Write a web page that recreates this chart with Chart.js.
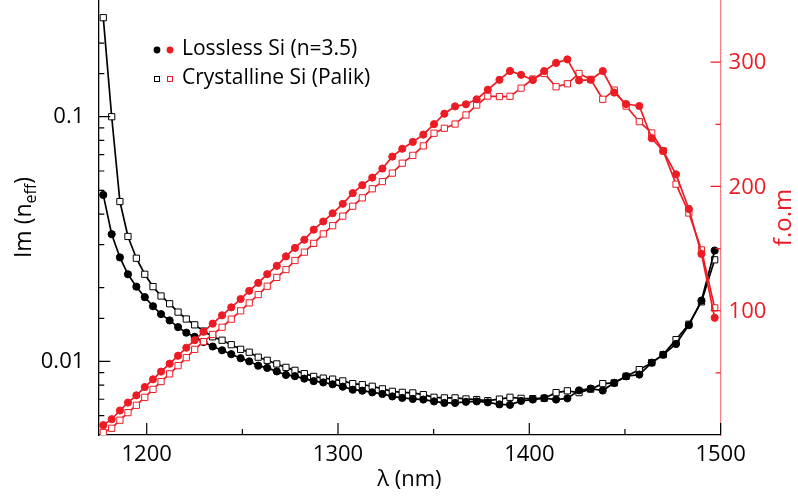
<!DOCTYPE html>
<html>
<head>
<meta charset="utf-8">
<script src="https://cdn.jsdelivr.net/npm/chart.js@4.4.1/dist/chart.umd.min.js"></script>
<style>
html, body { margin: 0; padding: 0; background: #fff; }
#wrap { width: 798px; height: 497px; position: relative; }
</style>
</head>
<body>
<div id="wrap"><canvas id="grafica"></canvas></div>
<script>
// Longitudes de onda (nm), comunes a las cuatro series
const lambdaNm = [1177.3, 1181.7, 1186.0, 1190.2, 1194.6, 1199.0, 1203.3, 1207.5, 1212.0, 1216.4,
  1220.7, 1225.1, 1229.7, 1234.5, 1239.4, 1244.2, 1249.1, 1253.6, 1258.3, 1263.0,
  1268.0, 1272.8, 1277.5, 1282.4, 1287.3, 1292.3, 1297.2, 1302.5, 1307.7, 1312.7,
  1317.9, 1323.2, 1328.4, 1333.6, 1339.1, 1344.6, 1350.2, 1355.6, 1361.2, 1366.9,
  1372.5, 1378.3, 1384.4, 1389.9, 1395.7, 1401.8, 1407.8, 1414.0, 1419.9, 1426.0,
  1432.1, 1438.4, 1444.4, 1450.6, 1457.5, 1464.0, 1470.0, 1476.7, 1483.4, 1490.0,
  1496.9];

// Im(n_eff), eje izquierdo (log)
const imLossless = [0.0479, 0.0331, 0.0266, 0.0227, 0.0202, 0.0183, 0.0168, 0.0156, 0.0147, 0.0138,
  0.0131, 0.0126, 0.0120, 0.0115, 0.0111, 0.0107, 0.0103, 0.0100, 0.0096, 0.0094,
  0.0091, 0.0088, 0.0087, 0.0085, 0.0083, 0.0082, 0.00806, 0.00788, 0.00766, 0.00759,
  0.00747, 0.00736, 0.00719, 0.00709, 0.00702, 0.00698, 0.00686, 0.00676, 0.00676, 0.00683,
  0.00686, 0.00680, 0.00667, 0.00664, 0.00689, 0.00698, 0.00707, 0.00698, 0.00706, 0.00761,
  0.00774, 0.00760, 0.00817, 0.00869, 0.00883, 0.00988, 0.01065, 0.01178, 0.01406, 0.01772,
  0.02838];
const imPalik = [0.254, 0.100, 0.0450, 0.0324, 0.0264, 0.0227, 0.0202, 0.0185, 0.0172, 0.0159,
  0.0149, 0.0141, 0.0133, 0.0126, 0.0122, 0.0117, 0.0112, 0.0109, 0.0104, 0.0101,
  0.00976, 0.00945, 0.00919, 0.00891, 0.00868, 0.00854, 0.00846, 0.00832, 0.00811, 0.00803,
  0.00791, 0.00772, 0.00754, 0.00747, 0.00743, 0.00731, 0.00713, 0.00709, 0.00709, 0.00702,
  0.00698, 0.00691, 0.00701, 0.00713, 0.00706, 0.00704, 0.00707, 0.00745, 0.00758, 0.00745,
  0.00770, 0.00811, 0.00816, 0.00869, 0.00925, 0.00988, 0.01065, 0.01227, 0.01418, 0.01752,
  0.02601];

// f.o.m, eje derecho
const fomLossless = [7.9, 12.7, 19.7, 26.1, 31.9, 38.6, 44.8, 51.0, 57.4, 63.8,
  70.2, 76.3, 83.1, 89.6, 96.3, 102.7, 109.4, 116.0, 122.4, 129.4,
  136.1, 143.7, 150.5, 157.1, 165.2, 171.8, 178.4, 186.0, 194.6, 201.0,
  207.1, 214.4, 224.0, 230.3, 235.8, 241.7, 250.1, 258.5, 264.4, 266.1,
  270.1, 277.8, 285.8, 292.9, 289.8, 285.6, 292.8, 299.4, 302.2, 285.3,
  285.8, 292.8, 275.5, 266.3, 264.7, 238.8, 228.6, 209.7, 181.9, 145.7,
  94.3];
const fomPalik = [2.0, 5.4, 11.9, 18.0, 23.9, 30.3, 36.7, 43.0, 49.2, 55.8,
  62.2, 68.9, 75.1, 80.9, 86.7, 93.2, 99.9, 106.3, 113.0, 119.7,
  126.8, 133.1, 140.4, 147.1, 154.2, 161.8, 168.4, 176.1, 184.1, 190.8,
  198.1, 203.9, 210.7, 218.7, 225.0, 232.6, 242.8, 246.8, 250.2, 257.5,
  265.5, 272.7, 272.3, 272.5, 279.1, 286.4, 290.9, 280.2, 282.6, 290.9,
  286.1, 270.1, 277.5, 264.7, 252.1, 243.0, 228.6, 201.8, 178.6, 148.9,
  102.3];

// Etiquetas de los ejes y leyenda
const xTickLabels = [1200, 1300, 1400, 1500];
const leftTickLabels = [0.01, 0.1];
const rightTickLabels = [100, 200, 300];
const legendLabels = ['Lossless Si (n=3.5)', 'Crystalline Si (Palik)'];

const ROJO = '#ED1C24';
const FUENTE = "'Open Sans', 'Noto Sans', sans-serif";

function pares(ys) {
  return lambdaNm.map((x, i) => ({ x: x, y: ys[i] }));
}

function esEtiquetaLog(v) {
  return leftTickLabels.find(t => Math.abs(t - v) / t < 1e-6);
}

// Quita el relleno automatico que Chart.js deja para las etiquetas
function ajustar(tam, prop) {
  return function (scale) {
    scale[prop] = tam;
    scale.paddingTop = 0;
    scale.paddingBottom = 0;
    scale.paddingLeft = 0;
    scale.paddingRight = 0;
  };
}

// Marcas hacia dentro del area del grafico + numeros del eje derecho
const marcasInternas = {
  id: 'marcasInternas',
  afterDatasetsDraw(chart) {
    const { ctx, chartArea: a, scales } = chart;
    ctx.save();
    ctx.lineWidth = 1.2;
    ctx.strokeStyle = '#000';
    ctx.beginPath();
    scales.x.ticks.forEach(t => {
      const px = scales.x.getPixelForValue(t.value);
      const len = xTickLabels.includes(t.value) ? 12 : 6;
      ctx.moveTo(px, a.bottom);
      ctx.lineTo(px, a.bottom - len);
    });
    scales.y.ticks.forEach(t => {
      const py = scales.y.getPixelForValue(t.value);
      if (py <= a.top + 1 || py >= a.bottom - 1) return;
      const len = esEtiquetaLog(t.value) ? 12 : 6;
      ctx.moveTo(a.left, py);
      ctx.lineTo(a.left + len, py);
    });
    ctx.stroke();

    ctx.strokeStyle = ROJO;
    ctx.fillStyle = ROJO;
    ctx.font = '22px ' + FUENTE;
    ctx.textAlign = 'left';
    ctx.textBaseline = 'middle';
    ctx.beginPath();
    scales.y2.ticks.forEach(t => {
      const py = scales.y2.getPixelForValue(t.value);
      if (py <= a.top + 1 || py >= a.bottom - 1) return;
      const mayor = rightTickLabels.includes(t.value);
      ctx.moveTo(a.right, py);
      ctx.lineTo(a.right - (mayor ? 10 : 5), py);
      if (mayor) ctx.fillText(String(t.value), a.right + 8, py + 1);
    });
    ctx.stroke();
    ctx.restore();
  }
};

// Titulos de los ejes y leyenda dibujados a mano (subindice y doble marcador)
const textosExtra = {
  id: 'textosExtra',
  afterDraw(chart) {
    const { ctx, chartArea: a } = chart;
    const midY = (a.top + a.bottom) / 2;
    ctx.save();

    // eje x
    ctx.fillStyle = '#000';
    ctx.font = '22px ' + FUENTE;
    ctx.textAlign = 'center';
    ctx.textBaseline = 'alphabetic';
    ctx.fillText('λ (nm)', (a.left + a.right) / 2, 486);

    // eje izquierdo: Im (n_eff)
    ctx.save();
    ctx.translate(31, midY);
    ctx.rotate(-Math.PI / 2);
    ctx.font = '23px ' + FUENTE;
    const w1 = ctx.measureText('Im (n').width;
    const w3 = ctx.measureText(')').width;
    ctx.font = '16px ' + FUENTE;
    const w2 = ctx.measureText('eff').width;
    const x0 = -(w1 + w2 + w3) / 2;
    ctx.textAlign = 'left';
    ctx.font = '23px ' + FUENTE;
    ctx.fillText('Im (n', x0, 0);
    ctx.font = '16px ' + FUENTE;
    ctx.fillText('eff', x0 + w1, 5);
    ctx.font = '23px ' + FUENTE;
    ctx.fillText(')', x0 + w1 + w2, 0);
    ctx.restore();

    // eje derecho: f.o.m
    ctx.save();
    ctx.translate(791, midY);
    ctx.rotate(-Math.PI / 2);
    ctx.fillStyle = ROJO;
    ctx.font = '24px ' + FUENTE;
    ctx.textAlign = 'center';
    ctx.fillText('f.o.m', 0, 0);
    ctx.restore();

    // leyenda
    const filas = [50, 79];
    ctx.font = '21px ' + FUENTE;
    ctx.textAlign = 'left';
    ctx.textBaseline = 'middle';
    ctx.fillStyle = '#000';
    legendLabels.forEach((txt, i) => ctx.fillText(txt, 182, filas[i] - 1));

    ctx.fillStyle = '#000';
    ctx.beginPath(); ctx.arc(157, filas[0], 3.4, 0, Math.PI * 2); ctx.fill();
    ctx.fillStyle = ROJO;
    ctx.beginPath(); ctx.arc(170, filas[0], 3.4, 0, Math.PI * 2); ctx.fill();
    ctx.lineWidth = 1;
    ctx.fillStyle = '#fff';
    ctx.strokeStyle = '#000';
    ctx.fillRect(154.5, filas[1] - 2.5, 5, 5);
    ctx.strokeRect(154.5, filas[1] - 2.5, 5, 5);
    ctx.strokeStyle = ROJO;
    ctx.fillRect(167.5, filas[1] - 2.5, 5, 5);
    ctx.strokeRect(167.5, filas[1] - 2.5, 5, 5);
    ctx.restore();
  }
};

const serieBase = {
  borderWidth: 1.7,
  pointBorderWidth: 1,
  tension: 0,
  fill: false
};

const ctx = document.getElementById('grafica').getContext('2d');
const grafica = new Chart(ctx, {
  type: 'line',
  data: {
    datasets: [
      Object.assign({}, serieBase, {
        label: 'Lossless Si f.o.m',
        data: pares(fomLossless),
        yAxisID: 'y2',
        borderColor: ROJO,
        pointBackgroundColor: ROJO,
        pointBorderColor: ROJO,
        pointStyle: 'circle',
        pointRadius: 3.6,
        order: 0
      }),
      Object.assign({}, serieBase, {
        label: 'Crystalline Si f.o.m',
        data: pares(fomPalik),
        yAxisID: 'y2',
        borderColor: ROJO,
        pointBackgroundColor: '#fff',
        pointBorderColor: ROJO,
        pointStyle: 'rect',
        pointRadius: 4.4,
        order: 1
      }),
      Object.assign({}, serieBase, {
        label: 'Lossless Si Im',
        data: pares(imLossless),
        yAxisID: 'y',
        borderColor: '#000',
        pointBackgroundColor: '#000',
        pointBorderColor: '#000',
        pointStyle: 'circle',
        pointRadius: 3.6,
        order: 2
      }),
      Object.assign({}, serieBase, {
        label: 'Crystalline Si Im',
        data: pares(imPalik),
        yAxisID: 'y',
        borderColor: '#000',
        pointBackgroundColor: '#fff',
        pointBorderColor: '#000',
        pointStyle: 'rect',
        pointRadius: 4.4,
        order: 3
      })
    ]
  },
  options: {
    responsive: true,
    maintainAspectRatio: false,
    animation: false,
    layout: { padding: 0, autoPadding: false },
    plugins: {
      legend: { display: false },
      tooltip: { enabled: false }
    },
    scales: {
      x: {
        type: 'linear',
        min: 1174.7,
        max: 1500,
        afterFit: ajustar(62, 'height'),
        grid: { display: false, drawTicks: false },
        border: { display: true, color: '#000', width: 1.3 },
        ticks: {
          stepSize: 50,
          includeBounds: false,
          autoSkip: false,
          maxRotation: 0,
          padding: 7,
          color: '#000',
          font: { family: FUENTE, size: 22 },
          callback: v => xTickLabels.includes(v) ? String(v) : ''
        }
      },
      y: {
        type: 'logarithmic',
        position: 'left',
        min: 0.005,
        max: 0.3,
        afterFit: ajustar(98.3, 'width'),
        grid: { display: false, drawTicks: false },
        border: { display: true, color: '#000', width: 1.3 },
        ticks: {
          autoSkip: false,
          padding: 14,
          color: '#000',
          font: { family: FUENTE, size: 22 },
          callback: v => {
            const t = esEtiquetaLog(v);
            return t ? String(t) : '';
          }
        }
      },
      y2: {
        type: 'linear',
        position: 'right',
        min: 0,
        max: 350,
        afterFit: ajustar(77.4, 'width'),
        grid: { display: false, drawTicks: false, drawOnChartArea: false },
        border: { display: true, color: 'rgba(237, 28, 36, 0.55)', width: 1.3 },
        ticks: {
          stepSize: 50,
          autoSkip: false,
          display: false
        }
      }
    }
  },
  plugins: [marcasInternas, textosExtra]
});
</script>
</body>
</html>
